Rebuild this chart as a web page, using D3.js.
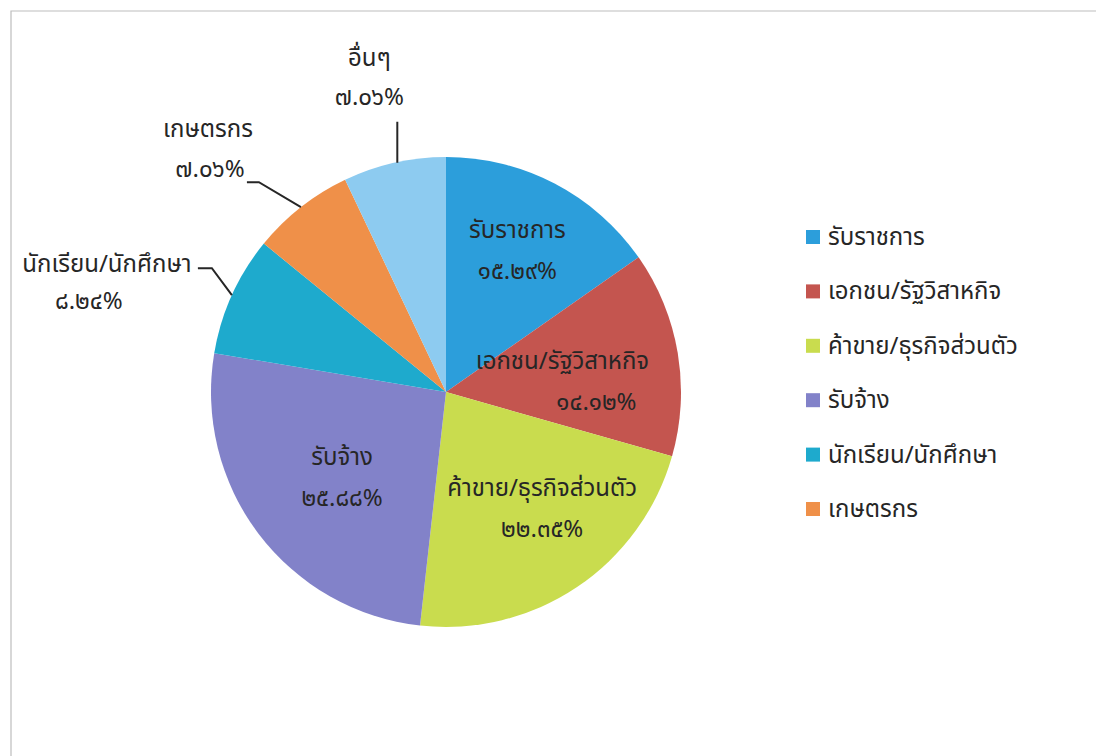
<!DOCTYPE html>
<html><head><meta charset="utf-8">
<script src="https://cdn.jsdelivr.net/npm/d3@7"></script>
<style>
html,body{margin:0;padding:0;background:#fff;}
svg{display:block;font-family:"Noto Sans Thai","Tahoma","Noto Sans","DejaVu Sans",sans-serif;}
</style></head>
<body>
<svg id="chart" width="1098" height="756"></svg>
<script>
// ---- data ----
const categories = ["รับราชการ","เอกชน/รัฐวิสาหกิจ","ค้าขาย/ธุรกิจส่วนตัว","รับจ้าง","นักเรียน/นักศึกษา","เกษตรกร","อื่นๆ"];
const values = [15.29, 14.12, 22.35, 25.88, 8.24, 7.06, 7.06];
const valueLabels = ["๑๕.๒๙%","๑๔.๑๒%","๒๒.๓๕%","๒๕.๘๘%","๘.๒๔%","๗.๐๖%","๗.๐๖%"];
const legendCategories = ["รับราชการ","เอกชน/รัฐวิสาหกิจ","ค้าขาย/ธุรกิจส่วนตัว","รับจ้าง","นักเรียน/นักศึกษา","เกษตรกร"];
const colors = ["#2c9edb","#c4554f","#c9dc4e","#8282c9","#1eaacd","#ef9049","#8dcbf0"];

// ---- layout ----
const svg = d3.select("#chart");
const cx = 446, cy = 392, R = 235;

svg.append("path").attr("d","M11,756 L11,11 L1096,11").attr("fill","none").attr("stroke","#bdbdbd").attr("stroke-width",1.2);

const color = d3.scaleOrdinal().domain(categories).range(colors);
const pie = d3.pie().sort(null).value(d => d.v);
const data = categories.map((c,i)=>({c, v: values[i], lab: valueLabels[i]}));
const arcs = pie(data);
const arc = d3.arc().innerRadius(0).outerRadius(R);

const g = svg.append("g").attr("transform",`translate(${cx},${cy})`);
g.selectAll("path.slice").data(arcs).join("path")
  .attr("class","slice").attr("d",arc).attr("fill",d=>color(d.data.c));

// inside labels: [labelRadius, angle tweak (deg), title dx, value dx]
const inside = {0:[160,-1,0,0], 1:[134,4.4,-17,17], 2:[150,-6,0,0], 3:[134,-2,0,0]};
const ts = 24;
Object.entries(inside).forEach(([i,[lr,tw,d1,d2]])=>{
  const a = arcs[i];
  const mid = (a.startAngle + a.endAngle)/2 + tw*Math.PI/180;
  const x = lr*Math.sin(mid), y = -lr*Math.cos(mid);
  const t = g.append("text").attr("text-anchor","middle").attr("font-size",ts).attr("fill","#262626");
  t.append("tspan").attr("x",x+d1).attr("y",y-11).text(a.data.c);
  t.append("tspan").attr("x",x+d2).attr("y",y+30).text(a.data.lab);
});

// outside labels with leader lines
const outer = d3.arc().innerRadius(R).outerRadius(R);
const outside = [
  {i:6, pts:(p)=>[[p[0]+3,p[1]],[p[0]+3,p[1]-41]], tx:-25, ty1:-97, ty2:-58, vdx:0},
  {i:5, pts:(p)=>[[p[0],p[1]],[p[0]-42,p[1]-25],[p[0]-54,p[1]-25]], tx:-93, ty1:-70, ty2:-30, vdx:2},
  {i:4, pts:(p)=>[[p[0],p[1]],[p[0]-20,p[1]-27],[p[0]-34,p[1]-27]], tx:-125, ty1:-23, ty2:14, vdx:-18},
];
outside.forEach(o=>{
  const a = arcs[o.i];
  const c = outer.centroid(a);
  g.append("path").attr("d",d3.line()(o.pts(c))).attr("fill","none").attr("stroke","#262626").attr("stroke-width",2);
  const x = c[0]+o.tx;
  g.append("text").attr("text-anchor","middle").attr("font-size",ts).attr("fill","#262626")
    .attr("x",x).attr("y",c[1]+o.ty1).text(a.data.c);
  g.append("text").attr("text-anchor","middle").attr("font-size",ts).attr("fill","#262626")
    .attr("x",x + o.vdx).attr("y",c[1]+o.ty2).text(a.data.lab);
});

// legend
const leg = svg.append("g").attr("transform","translate(806,230)");
const ly = d3.scalePoint().domain(legendCategories).range([0,272]);
const items = leg.selectAll("g").data(legendCategories).join("g").attr("transform",d=>`translate(0,${ly(d)})`);
items.append("rect").attr("width",14).attr("height",14).attr("fill",d=>color(d));
items.append("text").attr("x",22).attr("y",15).attr("font-size",24).attr("fill","#262626").text(d=>d);
</script>
</body></html>
